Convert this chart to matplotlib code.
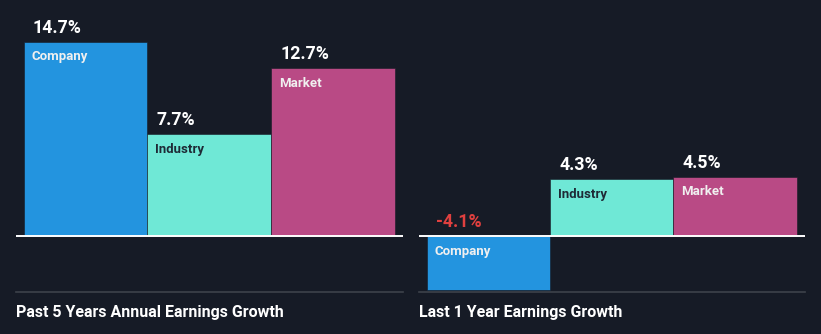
import matplotlib.pyplot as plt

plt.rcParams['font.family'] = ['Roboto', 'DejaVu Sans']

categories = ['Company', 'Industry', 'Market']
past_5y = [14.7, 7.7, 12.7]
last_1y = [-4.1, 4.3, 4.5]
titles = ['Past 5 Years Annual Earnings Growth', 'Last 1 Year Earnings Growth']

bg = '#161b26'
colors = ['#2394df', '#6fe8d6', '#b94a85']
name_colors = ['#f0f0f0', '#1e2a36', '#f0f0f0']

W, H = 821, 334
fig = plt.figure(figsize=(W / 100, H / 100), dpi=100, facecolor=bg)


def panel(x0, x1, values, title):
    # axes placed in pixel coords: top y=20, bottom y=292, zero at y=236
    top, bottom, zero = 20, 292, 236
    ax = fig.add_axes([x0 / W, (H - bottom) / H, (x1 - x0) / W, (bottom - top) / H])
    ax.set_facecolor(bg)
    scale = 13.2
    ax.set_ylim(-(bottom - zero) / scale, (zero - top) / scale)
    ax.set_xlim(-0.563, 2.567)
    xs = range(len(values))
    ax.bar(xs, values, width=1.0, color=colors, edgecolor=bg, linewidth=0.4)
    ax.axhline(0, color='white', lw=1.4)
    for s in ['top', 'left', 'right']:
        ax.spines[s].set_visible(False)
    ax.spines['bottom'].set_color('#3d424b')
    ax.spines['bottom'].set_linewidth(1.2)
    ax.set_xticks([])
    ax.set_yticks([])

    for i, v in enumerate(values):
        top_v = max(v, 0)
        ax.annotate(f'{v:.1f}%', (i - 0.5, top_v), xytext=(9, 14),
                    textcoords='offset pixels', ha='left', va='center',
                    fontsize=12.8, fontweight='bold',
                    color='#e0403f' if v < 0 else 'white')
        ax.annotate(categories[i], (i - 0.5, v if v > 0 else 0), xytext=(8, -15),
                    textcoords='offset pixels', ha='left', va='center',
                    fontsize=9.5, fontweight='bold', color=name_colors[i])

    fig.text(x0 / W, 1 - 312 / H, title, ha='left', va='center',
             fontsize=11.5, fontweight='bold', color='white')


panel(16, 403, past_5y, titles[0])
panel(419, 805, last_1y, titles[1])

fig.savefig('out.png', dpi=100, facecolor=bg)
